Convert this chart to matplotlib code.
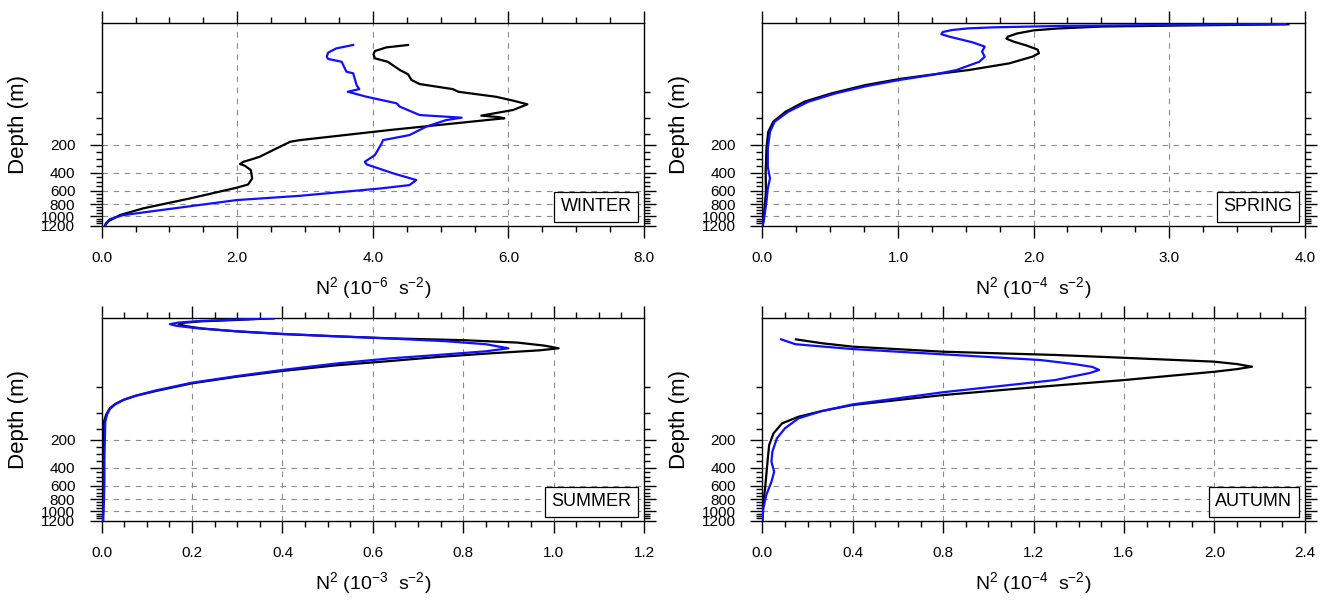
import matplotlib
matplotlib.use("Agg")
import matplotlib.pyplot as plt
import numpy as np
from matplotlib.ticker import MultipleLocator, FormatStrFormatter, FixedLocator

plt.rcParams['font.family'] = ['Liberation Sans', 'DejaVu Sans']
plt.rcParams['mathtext.default'] = 'regular'

# vertical axis is the model level position (0 = surface, 100 = 1200 m), depth labels placed on it
depth_major = [200, 400, 600, 800, 1000, 1200]
lev_major = [60.0, 73.8, 82.7, 89.4, 95.4, 100.0]
depth_knots = [0, 50, 100, 150, 200, 400, 600, 800, 1000, 1200]
lev_knots = [0, 33.8, 46.9, 54.7, 60.0, 73.8, 82.7, 89.4, 95.4, 100.0]
depth_minor = [d for d in range(50, 1200, 50) if d % 200 != 0]

# ---- WINTER (10^-6 s^-2)
win_blk_x = [4.52, 4.20, 4.03, 4.01, 4.03, 4.22, 4.40, 4.52, 4.57, 4.69, 5.18, 5.26, 5.82, 6.07, 6.28,
             6.07, 5.60, 5.85, 5.94, 4.25, 2.92, 2.78, 2.53, 2.33, 2.23, 2.09, 2.04, 2.11, 2.20, 2.22,
             2.16, 1.99, 1.30, 0.61, 0.27, 0.10, 0.05]
win_blk_y = [10.7, 11.9, 13.7, 15.3, 17.3, 19.0, 23.1, 25.2, 28.0, 30.0, 32.5, 33.8, 36.3, 38.2, 40.0,
             42.8, 45.6, 46.3, 46.9, 52.7, 57.7, 58.5, 62.6, 65.9, 67.0, 68.4, 69.5, 70.3, 72.5, 76.6,
             79.6, 81.2, 86.5, 91.4, 94.7, 97.7, 99.7]
win_blu_x = [3.71, 3.46, 3.34, 3.32, 3.34, 3.54, 3.61, 3.71, 3.76, 3.80, 3.63, 3.91, 4.35, 4.40, 4.69,
             5.31, 5.08, 4.79, 4.54, 4.15, 4.13, 4.03, 3.88, 3.91, 4.30, 4.64, 4.54, 4.10, 2.92, 1.99,
             0.32, 0.12, 0.06, 0.05]
win_blu_y = [10.7, 12.4, 14.5, 16.5, 17.6, 19.0, 23.9, 24.7, 30.5, 32.5, 33.8, 36.3, 39.5, 41.2, 45.3,
             46.6, 47.8, 51.0, 55.2, 57.7, 59.3, 65.1, 68.4, 69.7, 74.1, 77.4, 79.9, 81.6, 85.2, 87.3,
             94.7, 96.7, 98.8, 100.0]

# ---- SPRING (10^-4 s^-2)
spr_blk_x = [3.88, 3.20, 2.50, 2.17, 2.00, 1.88, 1.81, 1.80, 1.85, 1.95, 2.03, 2.04, 1.99, 1.82, 1.52,
             1.23, 1.01, 0.76, 0.51, 0.31, 0.17, 0.08, 0.043, 0.03, 0.024, 0.026, 0.013, 0.004]
spr_blk_y = [0.5, 1.0, 1.6, 2.6, 3.5, 5.0, 6.6, 7.6, 9.0, 11.0, 13.0, 14.8, 16.5, 19.8, 23.1,
             25.5, 27.5, 30.5, 34.6, 38.7, 43.7, 48.6, 53.6, 61.8, 73.3, 83.2, 93.1, 99.7]
spr_blu_x = [3.86, 3.00, 2.20, 1.70, 1.52, 1.40, 1.33, 1.32, 1.38, 1.55, 1.64, 1.62, 1.64, 1.60, 1.43,
             1.25, 1.01, 0.77, 0.54, 0.34, 0.19, 0.09, 0.056, 0.04, 0.04, 0.056, 0.04, 0.03, 0.01, 0.0]
spr_blu_y = [0.4, 0.8, 1.3, 2.0, 2.5, 3.3, 4.3, 5.4, 6.6, 9.4, 11.5, 14.0, 16.5, 19.0, 23.1,
             25.5, 28.0, 31.0, 34.6, 38.7, 43.7, 48.6, 53.6, 61.8, 71.0, 76.6, 81.5, 88.0, 97.7, 100.0]

# ---- SUMMER (10^-3 s^-2)
sum_blk_x = [0.38, 0.30, 0.22, 0.181, 0.17, 0.185, 0.22, 0.30, 0.40, 0.52, 0.64, 0.80, 0.92, 0.98, 1.011,
             0.97, 0.86, 0.75, 0.638, 0.52, 0.40, 0.30, 0.20, 0.12, 0.075, 0.048, 0.03, 0.018, 0.01,
             0.005, 0.004, 0.004, 0.003]
sum_blk_y = [0.0, 0.8, 1.5, 2.2, 2.9, 3.8, 5.0, 6.5, 7.8, 8.9, 9.9, 10.8, 12.0, 13.5, 14.8,
             15.8, 17.3, 19.0, 21.1, 23.2, 26.0, 28.8, 32.1, 35.9, 38.3, 40.3, 42.3, 44.4, 47.5,
             51.0, 60.0, 80.0, 100.0]
sum_blu_x = [0.38, 0.30, 0.22, 0.17, 0.151, 0.165, 0.21, 0.30, 0.40, 0.52, 0.64, 0.76, 0.85, 0.90,
             0.85, 0.75, 0.638, 0.52, 0.40, 0.30, 0.20, 0.12, 0.075, 0.048, 0.03, 0.018, 0.012, 0.008,
             0.007, 0.006, 0.006, 0.005, 0.003]
sum_blu_y = [0.0, 0.6, 1.3, 2.1, 2.9, 3.7, 4.9, 6.4, 7.7, 8.9, 10.0, 11.3, 12.8, 14.8,
             16.3, 18.0, 19.8, 22.3, 25.5, 28.5, 31.8, 35.6, 38.2, 40.3, 42.5, 44.8, 47.5, 51.0,
             60.0, 70.0, 80.0, 90.0, 100.0]

# ---- AUTUMN (10^-4 s^-2)
aut_blk_x = [0.148, 0.263, 0.40, 0.80, 1.296, 1.60, 1.997, 2.10, 2.167, 2.10, 2.00, 1.60, 1.23,
             0.80, 0.40, 0.263, 0.16, 0.087, 0.049, 0.030, 0.024, 0.016, 0.012, 0.002, 0.0]
aut_blk_y = [10.4, 12.3, 14.0, 16.5, 18.1, 19.5, 21.4, 22.6, 23.9, 25.1, 26.4, 30.5, 33.8,
             37.9, 42.8, 45.8, 48.6, 51.9, 56.8, 62.6, 69.1, 79.0, 84.0, 92.0, 100.0]
aut_blu_x = [0.083, 0.146, 0.40, 0.80, 1.23, 1.38, 1.46, 1.49, 1.45, 1.36, 1.296, 0.80, 0.40, 0.263,
             0.16, 0.10, 0.064, 0.044, 0.04, 0.052, 0.04, 0.017, 0.004, 0.0]
aut_blu_y = [10.4, 12.8, 15.2, 17.8, 20.6, 22.6, 24.0, 25.5, 27.0, 29.0, 30.5, 36.5, 42.5, 45.8,
             49.4, 54.3, 59.3, 65.9, 70.8, 75.8, 80.7, 87.3, 93.9, 100.0]

panels = [
    ("WINTER", -6, 8.0, 2.0, 0.5, (win_blk_x, win_blk_y), (win_blu_x, win_blu_y)),
    ("SPRING", -4, 4.0, 1.0, 0.25, (spr_blk_x, spr_blk_y), (spr_blu_x, spr_blu_y)),
    ("SUMMER", -3, 1.2, 0.2, 0.05, (sum_blk_x, sum_blk_y), (sum_blu_x, sum_blu_y)),
    ("AUTUMN", -4, 2.4, 0.4, 0.1, (aut_blk_x, aut_blk_y), (aut_blu_x, aut_blu_y)),
]

W, H = 1325, 601
fig = plt.figure(figsize=(W / 100, H / 100), dpi=100)
boxes = [(101.7, 23.3), (762.4, 23.3), (101.7, 318.3), (762.4, 318.3)]
aw, ah = 542.3, 202.5

lev_minor = np.interp(depth_minor, depth_knots, lev_knots)

for (name, expo, xmax, maj, mnr, blk, blu), (px, py) in zip(panels, boxes):
    ax = fig.add_axes([px / W, 1 - (py + ah) / H, aw / W, ah / H])
    ax.plot(blk[0], blk[1], color='black', lw=1.6, zorder=3)
    ax.plot(blu[0], blu[1], color='#1010ff', lw=1.6, zorder=4)
    ax.set_xlim(0, xmax)
    ax.set_ylim(100, 0)

    ax.xaxis.set_major_locator(MultipleLocator(maj))
    ax.xaxis.set_minor_locator(MultipleLocator(mnr))
    ax.xaxis.set_major_formatter(FormatStrFormatter('%.1f'))
    ax.yaxis.set_major_locator(FixedLocator(lev_major))
    ax.yaxis.set_minor_locator(FixedLocator(lev_minor))
    ax.set_yticklabels([str(d) for d in depth_major])

    ax.tick_params(which='both', direction='out', top=True, right=True, width=1.0, labelsize=11)
    ax.tick_params(which='major', length=8.5)
    ax.tick_params(which='minor', length=4.5)
    ax.tick_params(axis='x', which='major', pad=10)
    ax.tick_params(axis='y', which='major', pad=10.5)
    for s in ax.spines.values():
        s.set_linewidth(1.0)

    for lv in lev_major[:-1]:
        ax.axhline(lv, color='0.55', lw=0.8, ls=(0, (5, 5)), zorder=1)
    for xv in np.arange(maj, xmax - maj / 2, maj):
        ax.axvline(xv, color='0.55', lw=0.8, ls=(0, (5, 5)), zorder=1)

    ax.set_ylabel('Depth (m)', fontsize=16, labelpad=9)
    ax.set_xlabel(r'N$^2$ (10$^{%d}$  s$^{-2}$)' % expo, fontsize=14, labelpad=7)

    ax.text(0.977, 0.051, name, transform=ax.transAxes, ha='right', va='bottom', fontsize=13,
            zorder=5, bbox=dict(boxstyle='square,pad=0.35', fc='white', ec='black', lw=0.9))

fig.savefig('out.png', dpi=100)
